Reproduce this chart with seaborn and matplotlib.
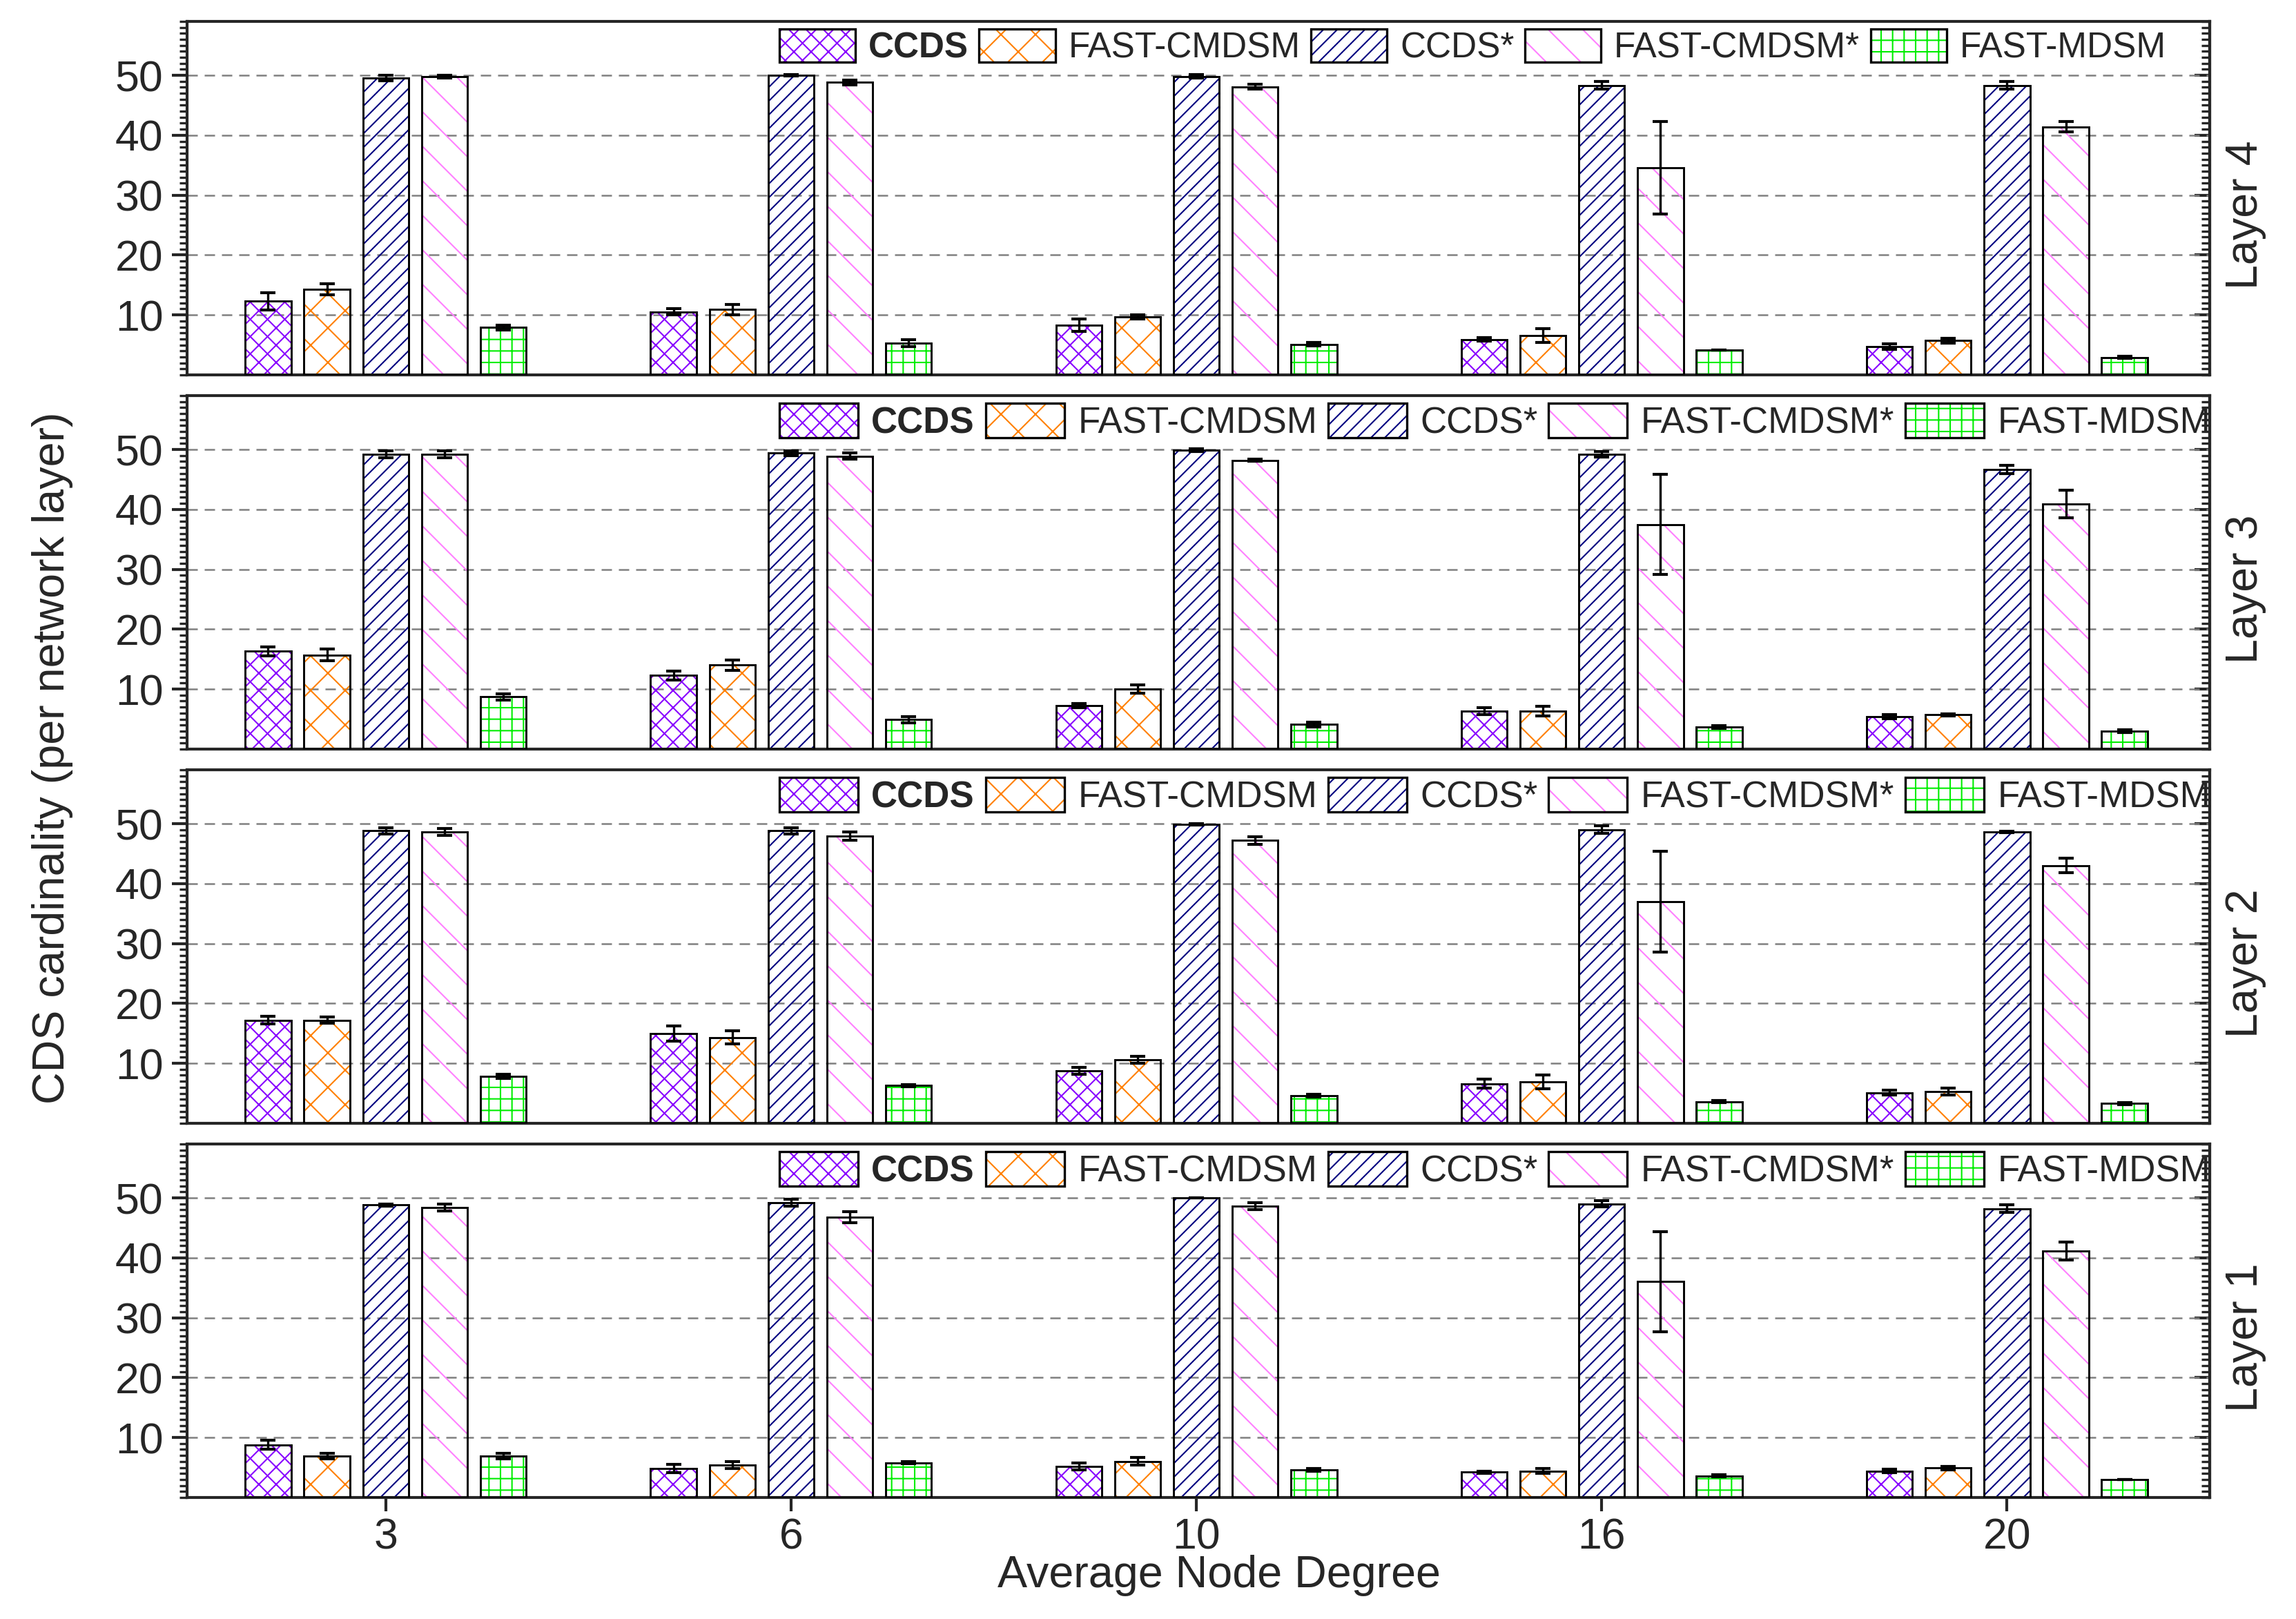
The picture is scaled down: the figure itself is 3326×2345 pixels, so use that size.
import pandas as pd
import matplotlib
matplotlib.use("Agg")
import matplotlib.pyplot as plt
import seaborn as sns
from matplotlib.patches import Patch, Rectangle
from matplotlib.ticker import MultipleLocator

# categories
degrees = ["3", "6", "10", "16", "20"]
methods = ["CCDS", "FAST-CMDSM", "CCDS*", "FAST-CMDSM*", "FAST-MDSM"]
layers = ["Layer 4", "Layer 3", "Layer 2", "Layer 1"]

# hatch style per method (diagonal hatches come out at half the density of '+')
hatch_colors = ["#8800FF", "#FF8000", "#000080", "#FF80FF", "#00EE00"]
hatches = ["xxxx", "xx", "/////", "\\\\", "+++"]

# values, one list per method (order of methods)
layer4_vals = [[12.3, 10.5, 8.3, 5.9, 4.7],
               [14.3, 10.9, 9.7, 6.6, 5.7],
               [49.5, 50.0, 49.8, 48.3, 48.3],
               [49.8, 48.8, 48.1, 34.6, 41.4],
               [7.9, 5.3, 5.1, 4.1, 2.9]]
layer4_errs = [[1.45, 0.5, 1.0, 0.3, 0.45],
               [0.9, 0.9, 0.35, 1.15, 0.4],
               [0.45, 0.1, 0.3, 0.65, 0.65],
               [0.25, 0.4, 0.4, 7.7, 0.85],
               [0.4, 0.6, 0.3, 0.0, 0.15]]

layer3_vals = [[16.3, 12.3, 7.2, 6.3, 5.4],
               [15.7, 14.0, 10.0, 6.3, 5.7],
               [49.2, 49.4, 49.9, 49.2, 46.7],
               [49.2, 48.9, 48.2, 37.5, 40.9],
               [8.7, 4.9, 4.1, 3.7, 3.0]]
layer3_errs = [[0.77, 0.73, 0.35, 0.6, 0.38],
               [0.95, 0.86, 0.73, 0.82, 0.2],
               [0.6, 0.4, 0.2, 0.5, 0.7],
               [0.6, 0.55, 0.2, 8.4, 2.25],
               [0.5, 0.5, 0.42, 0.2, 0.27]]

layer2_vals = [[17.2, 15.0, 8.7, 6.6, 5.1],
               [17.2, 14.3, 10.6, 6.9, 5.3],
               [48.8, 48.8, 49.9, 49.0, 48.6],
               [48.6, 47.9, 47.2, 37.0, 43.0],
               [7.8, 6.3, 4.6, 3.6, 3.3]]
layer2_errs = [[0.65, 1.27, 0.58, 0.73, 0.42],
               [0.5, 1.1, 0.55, 1.1, 0.6],
               [0.5, 0.55, 0.15, 0.6, 0.15],
               [0.55, 0.67, 0.6, 8.45, 1.2],
               [0.35, 0.2, 0.2, 0.2, 0.2]]

layer1_vals = [[8.8, 4.8, 5.2, 4.2, 4.4],
               [6.9, 5.4, 6.0, 4.4, 4.9],
               [48.8, 49.2, 50.0, 49.0, 48.2],
               [48.4, 46.8, 48.6, 36.0, 41.1],
               [6.9, 5.8, 4.6, 3.6, 3.0]]
layer1_errs = [[0.73, 0.7, 0.6, 0.15, 0.3],
               [0.5, 0.55, 0.63, 0.4, 0.3],
               [0.2, 0.6, 0.0, 0.5, 0.62],
               [0.55, 0.95, 0.55, 8.35, 1.5],
               [0.5, 0.2, 0.2, 0.2, 0.0]]

yticks = [10, 20, 30, 40, 50]

all_vals = [layer4_vals, layer3_vals, layer2_vals, layer1_vals]
all_errs = [layer4_errs, layer3_errs, layer2_errs, layer1_errs]
legend_sizes = [12.3, 12.7, 12.7, 12.7]

sns.set_style("ticks")
plt.rcParams["font.family"] = ["Liberation Sans", "DejaVu Sans"]
plt.rcParams["hatch.linewidth"] = 0.5
plt.rcParams["axes.linewidth"] = 1.0

fig, axes = plt.subplots(4, 1, figsize=(3326 / 300, 2345 / 300), dpi=300)
fig.subplots_adjust(left=0.0815, right=0.9624, top=0.9868, bottom=0.0751, hspace=0.0586)

for k, ax in enumerate(axes):
    rows = []
    for m, method in enumerate(methods):
        for d, deg in enumerate(degrees):
            rows.append({"degree": deg, "method": method, "value": all_vals[k][m][d]})
    df = pd.DataFrame(rows)

    sns.barplot(data=df, x="degree", y="value", hue="method", order=degrees,
                hue_order=methods, palette=hatch_colors, width=0.725, gap=0.22,
                errorbar=None, legend=False, ax=ax)

    # hatch in method colour, black outline on top, then error bars
    bar_conts = list(ax.containers)
    for m, cont in enumerate(bar_conts):
        for d, bar in enumerate(cont):
            bar.set_facecolor("none")
            bar.set_edgecolor(hatch_colors[m])
            bar.set_hatch(hatches[m])
            bar.set_linewidth(0)
            ax.add_patch(Rectangle((bar.get_x(), bar.get_y()), bar.get_width(), bar.get_height(),
                                   fill=False, edgecolor="black", linewidth=0.7, zorder=3))
            ax.errorbar(bar.get_x() + bar.get_width() / 2, bar.get_height(),
                        yerr=all_errs[k][m][d], color="black", elinewidth=0.8,
                        capsize=2.6, capthick=1.0, zorder=4)

    ax.set_xlim(-0.49, 4.5)
    ax.set_ylim(0, 59)
    ax.set_yticks(yticks)
    ax.yaxis.set_minor_locator(MultipleLocator(1))
    ax.tick_params(axis="y", which="major", direction="out", length=5.3, width=1.0, labelsize=15, pad=3)
    ax.tick_params(axis="y", which="minor", direction="out", length=2.6, width=0.8)
    ax.set_ylabel("")
    ax.set_xlabel("")
    ax.set_axisbelow(True)
    ax.yaxis.grid(True, color="#808080", linestyle=(0, (6, 4)), linewidth=0.6)
    ax.xaxis.grid(False)
    for s in ax.spines.values():
        s.set_visible(True)
        s.set_linewidth(1.0)

    # inward ticks on the right side
    sec = ax.secondary_yaxis("right")
    sec.set_yticks(yticks)
    sec.set_yticklabels([])
    sec.yaxis.set_minor_locator(MultipleLocator(1))
    sec.tick_params(which="major", direction="in", length=5.3, width=1.0)
    sec.tick_params(which="minor", direction="in", length=2.8, width=0.8)

    if k < 3:
        ax.tick_params(axis="x", bottom=False, labelbottom=False)
    else:
        ax.tick_params(axis="x", direction="out", length=4.8, width=1.0, labelsize=15, pad=2)

    ax.text(1.0177, 0.453, layers[k], transform=ax.transAxes, rotation=90,
            ha="center", va="center", fontsize=15.5)

    handles = [(Patch(facecolor="none", edgecolor=c, hatch=h, linewidth=0),
                Patch(facecolor="none", edgecolor="black", linewidth=0.8))
               for c, h in zip(hatch_colors, hatches)]
    leg = ax.legend(handles=handles, labels=methods, loc="upper left",
                    bbox_to_anchor=(0.2928, 0.978), ncol=5, frameon=False,
                    fontsize=legend_sizes[k], handlelength=2.15, handleheight=1.07,
                    handletextpad=0.37, columnspacing=0.3, borderpad=0, borderaxespad=0)
    leg.get_texts()[0].set_fontweight("bold")

fig.text(0.023, 0.532, "CDS cardinality (per network layer)", rotation=90,
         ha="center", va="center", fontsize=15.5)
fig.text(0.531, 0.027, "Average Node Degree", ha="center", va="center", fontsize=15.5)

fig.savefig("out.png", dpi=300)
plt.close()
